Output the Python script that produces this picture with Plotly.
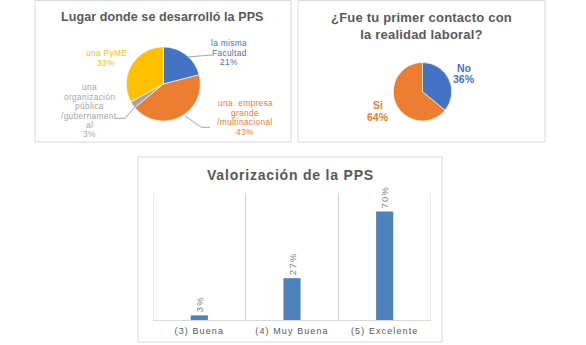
import plotly.graph_objects as go

W, H = 586, 345

# ---------------- data ----------------
lugar_labels = ["la misma Facultad", "una empresa grande /multinacional",
                "una organización pública /gubernamental", "una PyME"]
lugar_lines = [["la misma", "Facultad"],
               ["una  empresa", "grande", "/multinacional"],
               ["una", "organización", "pública", "/gubernament", "al"],
               ["una PyME"]]
lugar_values = [21, 43, 3, 33]

contacto_labels = ["No", "Si"]
contacto_values = [36, 64]

valor_categories = ["(3) Buena", "(4) Muy Buena", "(5) Excelente"]
valor_values = [0.03, 0.27, 0.70]

# ---------------- style ----------------
BLUE, ORANGE, GRAY, YELLOW = "#4472C4", "#ED7D31", "#A5A5A5", "#FFC000"
lugar_colors = [BLUE, ORANGE, GRAY, YELLOW]
contacto_colors = [BLUE, ORANGE]
BAR = "#4F81BD"
BORDER = "#D9D9D9"
TITLE_C = "#595959"
FONT = "Liberation Sans, Arial, sans-serif"


def X(px):
    return px / W


def Y(py):
    return 1 - py / H


def sp(text, ls):
    return f'<span style="letter-spacing:{ls}px">{text}</span>'


fig = go.Figure()

# pie 1: center (163.3, 84), r 37
c1x, c1y, r1 = 163.3, 84.0, 37.0
fig.add_trace(go.Pie(
    labels=lugar_labels, values=lugar_values, sort=False, direction="clockwise",
    rotation=0, textinfo="none", hoverinfo="label+percent",
    marker=dict(colors=lugar_colors, line=dict(color="white", width=0.6)),
    domain=dict(x=[X(c1x - r1), X(c1x + r1)], y=[Y(c1y + r1), Y(c1y - r1)]),
    showlegend=False,
))

# pie 2: center (422.5, 91.7), r 29.2
c2x, c2y, r2 = 422.5, 91.7, 29.2
fig.add_trace(go.Pie(
    labels=contacto_labels, values=contacto_values, sort=False, direction="clockwise",
    rotation=0, textinfo="none", hoverinfo="label+percent",
    marker=dict(colors=contacto_colors, line=dict(color="white", width=0.6)),
    domain=dict(x=[X(c2x - r2), X(c2x + r2)], y=[Y(c2y + r2), Y(c2y - r2)]),
    showlegend=False,
))

# bar chart
fig.add_trace(go.Bar(
    x=valor_categories, y=valor_values, marker=dict(color=BAR, line=dict(width=0)),
    width=0.185,
    texttemplate=sp("%{y:.0%}", 1.3), textposition="outside", textangle=-90,
    textfont=dict(family=FONT, size=9.5, color="#808080"),
    constraintext="none", cliponaxis=False, showlegend=False,
    xaxis="x", yaxis="y",
))

fig.update_layout(
    width=W, height=H, autosize=False,
    margin=dict(l=0, r=0, t=0, b=0, pad=0),
    paper_bgcolor="white", plot_bgcolor="rgba(0,0,0,0)",
    font=dict(family=FONT),
    xaxis=dict(domain=[X(153), X(431)], type="category", range=[-0.5, 2.5],
               tickson="boundaries", showgrid=True, gridcolor=BORDER, gridwidth=1,
               showline=True, linecolor=BORDER, linewidth=1, ticks="",
               tickfont=dict(family=FONT, size=9, color="#595959"),
               ticklabelstandoff=2,
               tickvals=valor_categories,
               ticktext=[sp(c, 1.1) for c in valor_categories],
               fixedrange=True, anchor="y"),
    yaxis=dict(domain=[Y(320), Y(193)], range=[0, 0.82], showgrid=False,
               showticklabels=False, zeroline=False, showline=False,
               fixedrange=True, anchor="x"),
)

shapes = []
# panel borders
for (x0, y0, x1, y1) in [(35, 0.5, 291, 142), (298, 0.5, 545, 142), (138, 157, 442, 342)]:
    shapes.append(dict(type="rect", xref="paper", yref="paper",
                       x0=X(x0), x1=X(x1), y0=Y(y1), y1=Y(y0),
                       line=dict(color=BORDER, width=1), fillcolor="rgba(0,0,0,0)", layer="below"))

# outer category gridlines of the bar chart
for edge in (-0.5, 2.5):
    shapes.append(dict(type="line", xref="x", yref="y domain", x0=edge, x1=edge, y0=0, y1=1,
                       line=dict(color=BORDER, width=1), layer="below"))

# leader lines for pie 1 labels
LEAD = "#A6A6A6"
leaders = [
    [(187, 57), (212, 55)],
    [(185, 116), (201.5, 127.3), (210, 127.3)],
    [(135, 106.7), (125, 118.3), (115, 118.3)],
]
for pts in leaders:
    for (ax, ay), (bx, by) in zip(pts[:-1], pts[1:]):
        shapes.append(dict(type="line", xref="paper", yref="paper",
                           x0=X(ax), y0=Y(ay), x1=X(bx), y1=Y(by),
                           line=dict(color=LEAD, width=1)))
fig.update_layout(shapes=shapes)

ann = []
# titles
ann.append(dict(text="<b>" + sp("Lugar donde se desarrolló la PPS", 0.1) + "</b>",
                x=X(162.5), y=Y(17), font=dict(size=12.5, color=TITLE_C)))
ann.append(dict(text="<b>" + sp("¿Fue tu primer contacto con", 0.2) + "<br>"
                + sp("la realidad laboral?", 0.2) + "</b>",
                x=X(421.7), y=Y(25.5), font=dict(size=13, color=TITLE_C)))
ann.append(dict(text="<b>" + sp("Valorización de la PPS", 0.8) + "</b>",
                x=X(290.8), y=Y(175.5), font=dict(size=14, color=TITLE_C)))

# pie 1 labels (one annotation per line)
lugar_pos = [(229, 43.3), (245, 103.3), (89, 87.3), (106, 53.3)]
LSP = 9.4
for lines, v, col, (cx, cy) in zip(lugar_lines, lugar_values, lugar_colors, lugar_pos):
    for i, t in enumerate(lines + [f"{v}%"]):
        ann.append(dict(text=sp(t, 0.35), x=X(cx), y=Y(cy + i * LSP),
                        font=dict(size=8.3, color=col)))

# pie 2 labels
contacto_pos = [(464.3, 67.7), (378.4, 105)]
for lab, v, col, (cx, cy) in zip(contacto_labels, contacto_values, contacto_colors, contacto_pos):
    ann.append(dict(text=f"<b>{lab}</b>", x=X(cx), y=Y(cy), font=dict(size=10.5, color=col)))
    ann.append(dict(text=f"<b>{v}%</b>", x=X(cx), y=Y(cy + 11.7), font=dict(size=10.5, color=col)))

for a in ann:
    a.update(xref="paper", yref="paper", showarrow=False, xanchor="center", yanchor="middle")
fig.update_layout(annotations=ann)

fig.write_html("out.html", config=dict(displayModeBar=False))
